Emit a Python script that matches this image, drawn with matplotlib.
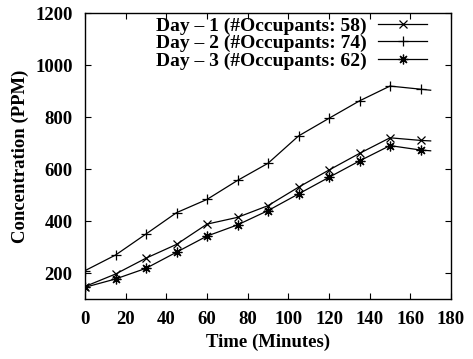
import matplotlib
matplotlib.use("Agg")
import matplotlib.pyplot as plt

plt.rcParams['font.family'] = ['Liberation Serif', 'DejaVu Serif']
plt.rcParams['font.weight'] = 'bold'

# CO2 concentration (PPM) sampled every 15 minutes, plus the final reading
minutes = [0, 15, 30, 45, 60, 75, 90, 105, 120, 135, 150, 165, 170]
day1 = [148, 196, 257, 310, 388, 414, 459, 530, 596, 660, 720, 710, 708]
day2 = [209, 269, 350, 432, 483, 556, 622, 727, 795, 862, 919, 907, 903]
day3 = [145, 177, 218, 280, 342, 385, 440, 504, 568, 631, 690, 673, 670]

labels = ["Day \u2013 1 (#Occupants: 58)",
          "Day \u2013 2 (#Occupants: 74)",
          "Day \u2013 3 (#Occupants: 62)"]

xticks = [0, 20, 40, 60, 80, 100, 120, 140, 160, 180]
yticks = [200, 400, 600, 800, 1000, 1200]

fig = plt.figure(figsize=(4.73, 3.59), dpi=100)
ax = fig.add_axes([85/473, 60/359, (451-85)/473, (299-13)/359])

marks = list(range(len(minutes) - 1))
style = dict(color='black', lw=0.9, markevery=marks, mew=0.9)
ax.plot(minutes, day1, marker='x', ms=6, label=labels[0], **style)
ax.plot(minutes, day2, marker='+', ms=7, label=labels[1], **style)
ax.plot(minutes, day3, marker=(8, 2, 0), ms=7, label=labels[2], **style)

ax.set_xlim(0, 180)
ax.set_ylim(100, 1200)
ax.set_xticks(xticks)
ax.set_yticks(yticks)
ax.tick_params(direction='in', length=4, width=0.8, top=True, right=True,
               labelsize=13.5)
ax.tick_params(axis='x', pad=9)
ax.tick_params(axis='y', pad=9)
for s in ax.spines.values():
    s.set_linewidth(1.0)

ax.set_xlabel("Time (Minutes)", fontsize=13.5, fontweight='bold', labelpad=4)
ax.set_ylabel("Concentration (PPM)", fontsize=13.5, fontweight='bold', labelpad=4)

leg = ax.legend(loc='upper right', bbox_to_anchor=(427/473, (359-17)/359),
                bbox_transform=fig.transFigure, frameon=False, markerfirst=False,
                fontsize=14, borderpad=0, borderaxespad=0, handlelength=2.5,
                handletextpad=0.6, labelspacing=0.0)
for t in leg.get_texts():
    t.set_fontweight('bold')

fig.savefig("out.png", dpi=100)
